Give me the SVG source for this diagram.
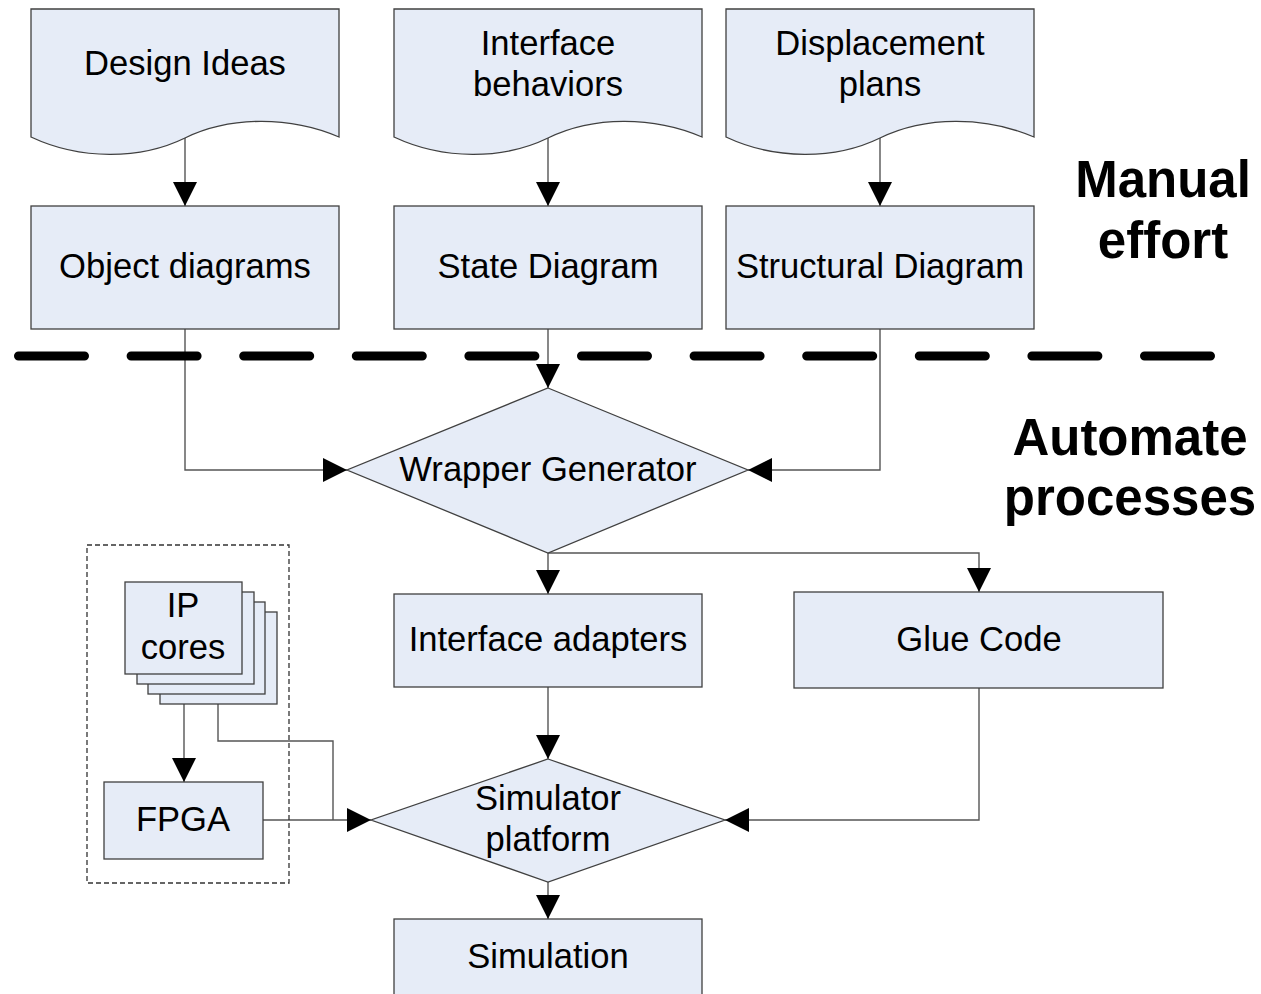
<svg xmlns="http://www.w3.org/2000/svg" width="1261" height="994" viewBox="0 0 1261 994">
  <defs>
    <style>
      .shape { fill: #e6ecf7; stroke: #404040; stroke-width: 1.3; }
      .lbl { font-family: "Liberation Sans", Arial, sans-serif; font-size: 34.6px; fill: #000; text-anchor: middle; }
      .big { font-family: "Liberation Sans", Arial, sans-serif; font-size: 51px; font-weight: bold; fill: #000; text-anchor: middle; }
      .wire { fill: none; stroke: #555; stroke-width: 1.4; }
      .wire-arrow { fill: none; stroke: #555; stroke-width: 1.4; marker-end: url(#head); }
    </style>
    <marker id="head" markerUnits="userSpaceOnUse" markerWidth="24" markerHeight="24" refX="24" refY="12" orient="auto" viewBox="0 0 24 24">
      <path d="M0,0 L24,12 L0,24 Z" fill="#000"/>
    </marker>
  </defs>

  <rect width="1261" height="994" fill="#fff"/>

  <!-- connectors -->
  <g id="connectors">
    <path class="wire-arrow" d="M185,138 V206"/>
    <path class="wire-arrow" d="M548,138 V206"/>
    <path class="wire-arrow" d="M880,138 V206"/>
    <path class="wire-arrow" d="M185,329 V470 H347"/>
    <path class="wire-arrow" d="M548,329 V388"/>
    <path class="wire-arrow" d="M880,329 V470 H748"/>
    <path class="wire-arrow" d="M548,553 V594"/>
    <path class="wire-arrow" d="M548,553 H979 V592"/>
    <path class="wire-arrow" d="M548,687 V759"/>
    <path class="wire-arrow" d="M979,688 V820 H725"/>
    <path class="wire-arrow" d="M548,882 V919"/>
    <path class="wire-arrow" d="M184,674 V782"/>
    <path class="wire" d="M218,704 V741 H333 V820"/>
    <path class="wire-arrow" d="M263,820 H371"/>
  </g>

  <!-- boundary between manual and automated stages -->
  <g id="separator">
    <line x1="18.5" y1="356" x2="1210.5" y2="356" stroke="#000" stroke-width="9" stroke-linecap="round" stroke-dasharray="66 46.6"/>
  </g>

  <!-- input documents -->
  <g id="doc-design-ideas">
    <path class="shape" d="M31,9 H339 V137 C290,116 230,116 185,138 C140,160 80,160 31,137 Z"/>
    <text class="lbl" x="185" y="75">Design Ideas</text>
  </g>
  <g id="doc-interface-behaviors">
    <path class="shape" d="M394,9 H702 V137 C653,116 593,116 548,138 C503,160 443,160 394,137 Z"/>
    <text class="lbl" x="548" y="55">Interface</text>
    <text class="lbl" x="548" y="96">behaviors</text>
  </g>
  <g id="doc-displacement-plans">
    <path class="shape" d="M726,9 H1034 V137 C985,116 925,116 880,138 C835,160 775,160 726,137 Z"/>
    <text class="lbl" x="880" y="55">Displacement</text>
    <text class="lbl" x="880" y="96">plans</text>
  </g>

  <!-- manual models -->
  <g id="object-diagrams">
    <rect class="shape" x="31" y="206" width="308" height="123"/>
    <text class="lbl" x="185" y="278">Object diagrams</text>
  </g>
  <g id="state-diagram">
    <rect class="shape" x="394" y="206" width="308" height="123"/>
    <text class="lbl" x="548" y="278">State Diagram</text>
  </g>
  <g id="structural-diagram">
    <rect class="shape" x="726" y="206" width="308" height="123"/>
    <text class="lbl" x="880" y="278">Structural Diagram</text>
  </g>

  <!-- generator -->
  <g id="wrapper-generator">
    <path class="shape" d="M548,388 L748,470 L548,553 L347,470 Z"/>
    <text class="lbl" x="548" y="481">Wrapper Generator</text>
  </g>

  <g id="interface-adapters">
    <rect class="shape" x="394" y="594" width="308" height="93"/>
    <text class="lbl" x="548" y="651">Interface adapters</text>
  </g>
  <g id="glue-code">
    <rect class="shape" x="794" y="592" width="369" height="96"/>
    <text class="lbl" x="979" y="651">Glue Code</text>
  </g>

  <!-- hardware side -->
  <g id="hardware-group">
    <rect x="87" y="545" width="202" height="338" fill="none" stroke="#333" stroke-width="1.3" stroke-dasharray="5 3"/>
  </g>
  <g id="ip-cores">
    <rect class="shape" x="160" y="612" width="117" height="92"/>
    <rect class="shape" x="148" y="602" width="117" height="92"/>
    <rect class="shape" x="137" y="592" width="117" height="92"/>
    <rect class="shape" x="125" y="582" width="117" height="92"/>
    <text class="lbl" x="183" y="617">IP</text>
    <text class="lbl" x="183" y="659">cores</text>
  </g>
  <g id="fpga">
    <rect class="shape" x="104" y="782" width="159" height="77"/>
    <text class="lbl" x="183" y="831">FPGA</text>
  </g>

  <g id="simulator-platform">
    <path class="shape" d="M548,759 L725,820 L548,882 L371,820 Z"/>
    <text class="lbl" x="548" y="810">Simulator</text>
    <text class="lbl" x="548" y="851">platform</text>
  </g>

  <g id="simulation">
    <rect class="shape" x="394" y="919" width="308" height="90"/>
    <text class="lbl" x="548" y="968">Simulation</text>
  </g>

  <!-- stage captions -->
  <g id="caption-manual">
    <text class="big" x="1163" y="197">Manual</text>
    <text class="big" x="1163" y="258">effort</text>
  </g>
  <g id="caption-automated">
    <text class="big" x="1130" y="455">Automate</text>
    <text class="big" x="1130" y="515">processes</text>
  </g>
</svg>
